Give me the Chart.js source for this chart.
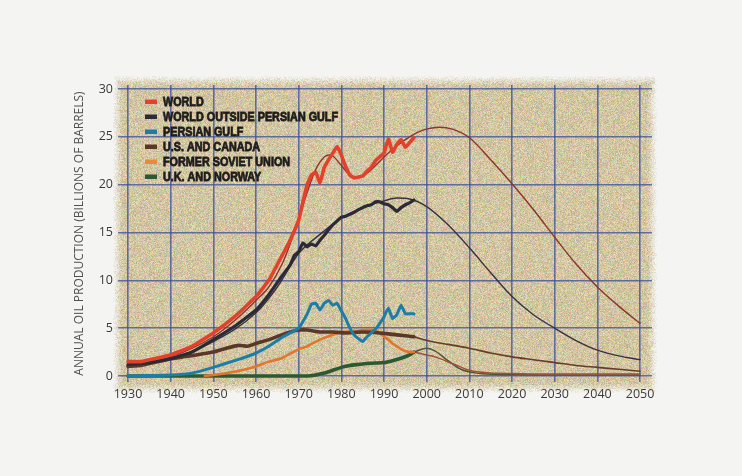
<!DOCTYPE html>
<html lang="en">
<head>
    <meta charset="UTF-8">
    <title>Oil production</title>
    <script src="https://cdn.jsdelivr.net/npm/chart.js@4.4.1/dist/chart.umd.min.js"></script>
    <style>
        body { margin: 0; background: #f4f4f2; }
        canvas { display: block; }
    </style>
</head>
<body>
<canvas id="myChart" width="742" height="476"></canvas>
<script>
    // tick labels
    const xTicks = [1930, 1940, 1950, 1960, 1970, 1980, 1990, 2000, 2010, 2020, 2030, 2040, 2050];
    const yTicks = [0, 5, 10, 15, 20, 25, 30];

    // legend names
    const seriesNames = ['WORLD', 'WORLD OUTSIDE PERSIAN GULF', 'PERSIAN GULF', 'U.S. AND CANADA', 'FORMER SOVIET UNION', 'U.K. AND NORWAY'];

    // world, historical
    const worldYears = [1930, 1933, 1936, 1940, 1945, 1950, 1955, 1960, 1963, 1966, 1968, 1970, 1971, 1972, 1973, 1974, 1975, 1976, 1977, 1978, 1979, 1980, 1981, 1982, 1983, 1984, 1985, 1986, 1987, 1988, 1989, 1990, 1991, 1992, 1993, 1994, 1995, 1996, 1997];
    const worldProd  = [1.5, 1.5, 1.8, 2.2, 3.1, 4.5, 6.2, 8.3, 10.0, 12.5, 14.2, 16.3, 18.2, 20.0, 21.0, 21.3, 20.2, 21.8, 22.6, 23.3, 24.0, 23.1, 21.9, 21.0, 20.7, 20.8, 20.9, 21.4, 21.8, 22.5, 22.9, 23.3, 24.8, 23.4, 24.2, 24.7, 23.9, 24.4, 24.9];
    // world, fitted curve
    const worldFitYears = [1930, 1940, 1950, 1955, 1960, 1963, 1966, 1968, 1970, 1972, 1974, 1976, 1977, 1978, 1980, 1982, 1984, 1986, 1988, 1990, 1992, 1994, 1996, 1998, 2000, 2003, 2006, 2010, 2015, 2020, 2025, 2030, 2035, 2040, 2045, 2050];
    const worldFit      = [1.3, 2.0, 4.1, 5.8, 7.9, 9.3, 11.6, 13.8, 16.4, 19.2, 21.6, 22.9, 23.1, 23.0, 22.0, 21.0, 20.8, 21.2, 22.0, 22.9, 23.7, 24.4, 25.0, 25.5, 25.8, 26.0, 25.8, 24.9, 22.6, 20.1, 17.4, 14.5, 11.7, 9.3, 7.3, 5.5];

    // world outside persian gulf
    const outsideYears = [1930, 1935, 1940, 1945, 1950, 1955, 1960, 1963, 1966, 1968, 1969, 1970, 1971, 1972, 1973, 1974, 1975, 1976, 1977, 1978, 1979, 1980, 1981, 1982, 1983, 1984, 1985, 1986, 1987, 1988, 1989, 1990, 1991, 1992, 1993, 1994, 1995, 1996, 1997];
    const outsideProd  = [1.2, 1.4, 1.8, 2.5, 3.8, 5.2, 6.9, 8.5, 10.4, 11.6, 12.6, 13.0, 13.9, 13.5, 13.8, 13.6, 14.2, 14.7, 15.3, 15.8, 16.2, 16.6, 16.7, 16.9, 17.1, 17.4, 17.6, 17.8, 17.9, 18.2, 18.2, 18.0, 17.9, 17.6, 17.2, 17.6, 17.9, 18.1, 18.4];
    const outsideFitYears = [1930, 1940, 1950, 1960, 1965, 1970, 1975, 1980, 1985, 1990, 1993, 1996, 2000, 2005, 2010, 2015, 2020, 2025, 2030, 2035, 2040, 2045, 2050];
    const outsideFit      = [1.1, 1.8, 3.6, 6.6, 9.3, 12.8, 14.8, 16.5, 17.6, 18.3, 18.6, 18.5, 17.7, 15.8, 13.4, 10.8, 8.3, 6.4, 5.0, 3.7, 2.7, 2.1, 1.7];

    // persian gulf
    const gulfYears = [1930, 1935, 1940, 1945, 1950, 1955, 1960, 1963, 1966, 1968, 1970, 1971, 1972, 1973, 1974, 1975, 1976, 1977, 1978, 1979, 1980, 1981, 1982, 1983, 1984, 1985, 1986, 1987, 1988, 1989, 1990, 1991, 1992, 1993, 1994, 1995, 1996, 1997];
    const gulfProd  = [0.0, 0.05, 0.1, 0.3, 0.9, 1.6, 2.4, 3.1, 4.0, 4.5, 5.0, 5.7, 6.5, 7.5, 7.6, 6.9, 7.6, 7.9, 7.4, 7.6, 6.8, 6.0, 5.0, 4.3, 3.9, 3.6, 4.1, 4.5, 4.9, 5.5, 6.2, 7.1, 6.0, 6.4, 7.4, 6.5, 6.5, 6.5];

    // u.s. and canada
    const usYears = [1930, 1933, 1936, 1940, 1943, 1946, 1950, 1953, 1956, 1958, 1960, 1963, 1966, 1968, 1970, 1972, 1975, 1978, 1981, 1985, 1989, 1993, 1997];
    const usProd  = [1.0, 1.1, 1.4, 1.8, 2.0, 2.2, 2.5, 2.9, 3.2, 3.1, 3.4, 3.8, 4.3, 4.6, 4.8, 4.8, 4.6, 4.6, 4.5, 4.6, 4.5, 4.3, 4.1];
    const usFitYears = [1997, 2000, 2005, 2010, 2015, 2020, 2025, 2030, 2035, 2040, 2045, 2050];
    const usFit      = [4.1, 3.7, 3.3, 2.9, 2.4, 2.0, 1.7, 1.4, 1.1, 0.9, 0.7, 0.5];

    // former soviet union
    const fsuYears = [1948, 1950, 1955, 1960, 1963, 1966, 1970, 1972, 1975, 1978, 1980, 1983, 1985, 1988, 1989, 1990, 1991, 1992, 1993, 1994, 1995, 1996, 1997];
    const fsuProd  = [0.0, 0.1, 0.45, 1.0, 1.5, 1.85, 2.8, 3.1, 3.8, 4.3, 4.6, 4.7, 4.8, 4.8, 4.5, 4.1, 3.8, 3.4, 3.1, 2.8, 2.6, 2.5, 2.5];
    const fsuFitYears = [1997, 2000, 2002, 2006, 2010, 2015, 2020, 2030, 2040, 2050];
    const fsuFit      = [2.5, 2.2, 2.0, 1.3, 0.6, 0.3, 0.25, 0.2, 0.2, 0.2];

    // u.k. and norway
    const ukYears = [1930, 1972, 1974, 1976, 1978, 1980, 1982, 1984, 1986, 1988, 1990, 1992, 1994, 1996, 1997];
    const ukProd  = [0.0, 0.0, 0.1, 0.3, 0.6, 0.9, 1.1, 1.2, 1.3, 1.35, 1.4, 1.6, 1.85, 2.2, 2.5];
    const ukFitYears = [1997, 2000, 2002, 2005, 2008, 2011, 2014, 2020, 2030, 2050];
    const ukFit      = [2.5, 2.9, 2.6, 1.6, 0.7, 0.35, 0.2, 0.12, 0.1, 0.1];

    const colors = {
        world: '#e2412b', worldFit: '#8c352b',
        outside: '#2b2a36', outsideFit: '#3a3140',
        gulf: '#1c7ea6',
        us: '#5a3829', usFit: '#6a3a2a',
        fsu: '#e3762f', fsuFit: '#9a5236',
        uk: '#2d5932', ukFit: '#50563a'
    };
    const legendColors = [colors.world, colors.outside, colors.gulf, colors.us, '#eb8a3c', colors.uk];

    const pts = (xs, ys) => xs.map((x, i) => ({ x: x, y: ys[i] }));

    function series(label, xs, ys, color, width, fit, order) {
        return {
            label: label,
            data: pts(xs, ys),
            borderColor: color,
            borderWidth: width,
            fill: false,
            tension: fit ? 0.4 : 0.1,
            cubicInterpolationMode: fit ? 'monotone' : 'default',
            borderCapStyle: 'round',
            borderJoinStyle: 'round',
            order: order
        };
    }

    // grainy paper behind the plot
    function rng(seed) {
        return function () {
            seed |= 0; seed = seed + 0x6D2B79F5 | 0;
            let t = Math.imul(seed ^ seed >>> 15, 1 | seed);
            t = t + Math.imul(t ^ t >>> 7, 61 | t) ^ t;
            return ((t ^ t >>> 14) >>> 0) / 4294967296;
        };
    }
    let paperCanvas = null;
    function makePaper(w, h) {
        const c = document.createElement('canvas');
        c.width = w; c.height = h;
        const g = c.getContext('2d');
        const img = g.createImageData(w, h);
        const r = rng(7);
        for (let y = 0; y < h; y++) {
            for (let x = 0; x < w; x++) {
                const i = (y * w + x) * 4;
                const lum = (r() - 0.5) * 34;
                img.data[i]     = 210 + lum + (r() - 0.5) * 40;
                img.data[i + 1] = 198 + lum + (r() - 0.5) * 34;
                img.data[i + 2] = 162 + lum + (r() - 0.5) * 44;
                const edge = Math.min(x, y, w - 1 - x, h - 1 - y);
                let a = edge / 9 + (r() - 0.5) * 0.6;
                a = Math.max(0, Math.min(1, a));
                img.data[i + 3] = a * 255;
            }
        }
        g.putImageData(img, 0, 0);
        return c;
    }
    const paper = {
        id: 'paper',
        beforeDraw(chart) {
            const a = chart.chartArea;
            const x0 = a.left - 5, y0 = a.top - 9, x1 = a.right + 5, y1 = a.bottom + 11;
            if (!paperCanvas) paperCanvas = makePaper(x1 - x0, y1 - y0);
            chart.ctx.drawImage(paperCanvas, x0, y0);
        }
    };

    // legend in the upper left of the plot
    const legendBox = {
        id: 'legendBox',
        afterDatasetsDraw(chart) {
            const ctx = chart.ctx;
            const a = chart.chartArea;
            ctx.save();
            ctx.font = 'bold 13px "Liberation Sans", Arial, sans-serif';
            ctx.textBaseline = 'middle';
            seriesNames.forEach((name, i) => {
                const y = a.top + 16.5 + i * 15;
                const x = a.left + 27;
                ctx.fillStyle = legendColors[i];
                ctx.fillRect(x, y - 2, 12, 4.5);
                ctx.save();
                ctx.translate(x + 18, y + 0.5);
                ctx.scale(0.83, 1);
                ctx.fillStyle = '#1f1d1c';
                ctx.strokeStyle = '#1f1d1c';
                ctx.lineWidth = 0.8;
                ctx.fillText(name, 0, 0);
                ctx.strokeText(name, 0, 0);
                ctx.restore();
            });
            ctx.restore();
        }
    };

    const ctx = document.getElementById('myChart').getContext('2d');
    const myChart = new Chart(ctx, {
        type: 'line',
        data: {
            datasets: [
                series(seriesNames[0], worldYears, worldProd, colors.world, 3.6, false, 1),
                series(seriesNames[0] + ' fit', worldFitYears, worldFit, colors.worldFit, 1.4, true, 8),
                series(seriesNames[1], outsideYears, outsideProd, colors.outside, 3.2, false, 2),
                series(seriesNames[1] + ' fit', outsideFitYears, outsideFit, colors.outsideFit, 1.4, true, 9),
                series(seriesNames[2], gulfYears, gulfProd, colors.gulf, 3, false, 3),
                series(seriesNames[3], usYears, usProd, colors.us, 3.6, false, 4),
                series(seriesNames[3] + ' fit', usFitYears, usFit, colors.usFit, 1.6, true, 10),
                series(seriesNames[4], fsuYears, fsuProd, colors.fsu, 2.6, false, 5),
                series(seriesNames[4] + ' fit', fsuFitYears, fsuFit, colors.fsuFit, 1.5, true, 11),
                series(seriesNames[5], ukYears, ukProd, colors.uk, 3.6, false, 6),
                series(seriesNames[5] + ' fit', ukFitYears, ukFit, colors.ukFit, 1.5, true, 12)
            ]
        },
        options: {
            responsive: false,
            animation: false,
            layout: { padding: { left: 66, top: 85, right: 90, bottom: 64 } },
            elements: { point: { radius: 0 } },
            plugins: {
                legend: { display: false },
                tooltip: { enabled: false }
            },
            scales: {
                x: {
                    type: 'linear',
                    min: 1927.66,
                    max: 2052.8,
                    afterBuildTicks: s => { s.ticks = xTicks.map(v => ({ value: v })); },
                    afterFit: s => { s.height = 30; },
                    border: { display: false },
                    grid: { color: 'rgba(58,76,160,0.75)', lineWidth: 1.6, drawTicks: false },
                    ticks: {
                        padding: 5,
                        color: '#3a3a3a',
                        font: { family: '"Open Sans", sans-serif', size: 12.5 },
                        callback: v => String(v)
                    }
                },
                y: {
                    min: -0.63,
                    max: 30.42,
                    afterBuildTicks: s => { s.ticks = yTicks.map(v => ({ value: v })); },
                    afterFit: s => { s.width = 52; },
                    border: { display: false },
                    grid: { color: 'rgba(58,76,160,0.75)', lineWidth: 1.6, drawTicks: false },
                    ticks: {
                        padding: 5,
                        color: '#3a3a3a',
                        font: { family: '"Open Sans", sans-serif', size: 12.5 },
                        callback: v => String(v)
                    },
                    title: {
                        display: true,
                        text: 'ANNUAL OIL PRODUCTION (BILLIONS OF BARRELS)',
                        color: '#505050',
                        font: { family: '"Open Sans", sans-serif', size: 12 },
                        padding: { top: 6, bottom: 0 }
                    }
                }
            }
        },
        plugins: [paper, legendBox]
    });
</script>
</body>
</html>
